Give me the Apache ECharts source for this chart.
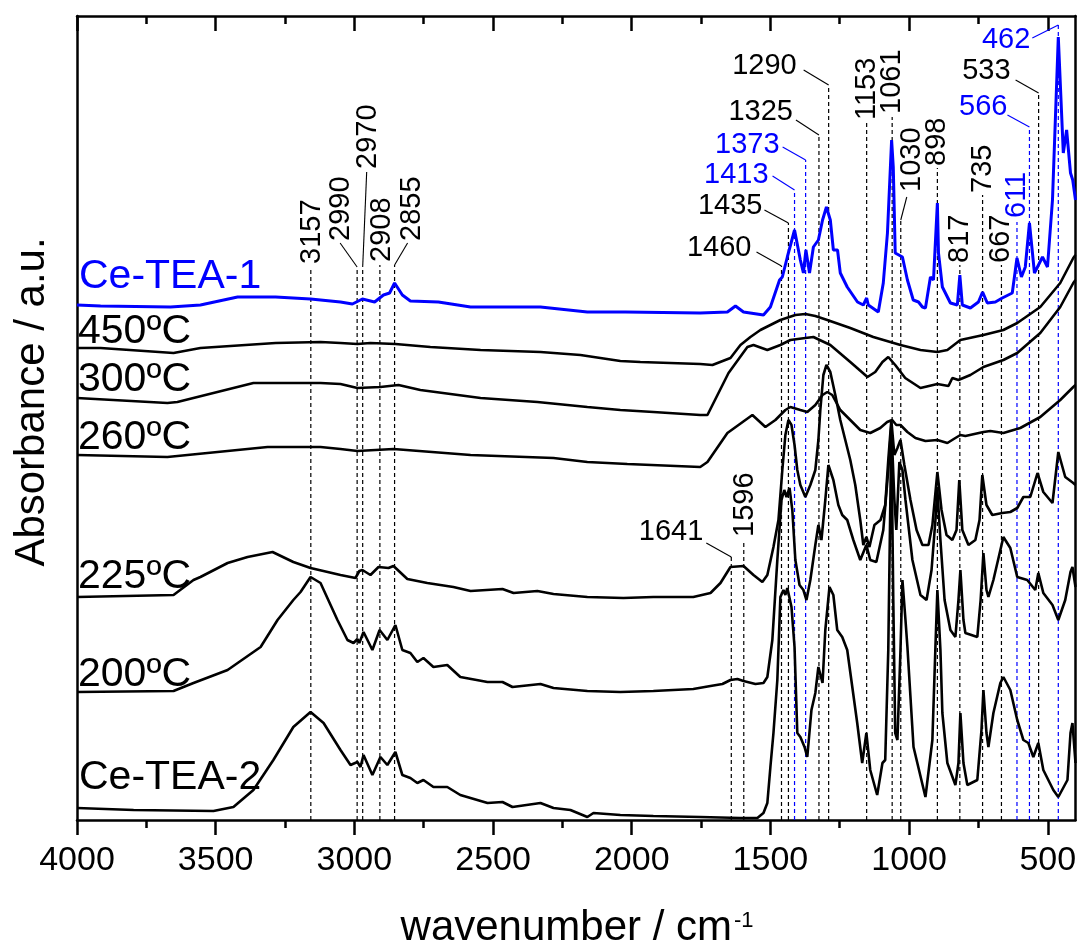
<!DOCTYPE html>
<html>
<head>
<meta charset="utf-8">
<script src="https://cdn.jsdelivr.net/npm/echarts@6/dist/echarts.min.js"></script>
<style>
  html, body { margin: 0; padding: 0; background: #fff; }
  #chart { width: 1080px; height: 947px; }
</style>
</head>
<body>
<div id="chart"></div>
<script>
// FTIR spectra, [wavenumber, absorbance (a.u., stacked offsets)]
var ceTea1 = [[4000,515],[3915,514],[3663,513],[3555,515],[3421,523],[3284,523],[3158,521],[3050,518],[3007,516],[2971,521],[2927,518],[2895,525],[2873,527],[2855,537],[2827,525],[2798,519],[2697,518],[2581,513],[2329,513],[2160,508],[2023,508],[1753,507],[1655,508],[1626,514],[1597,508],[1525,505],[1500,513],[1467,540],[1457,543],[1439,563],[1413,590],[1392,560],[1381,547],[1372,570],[1359,547],[1345,573],[1327,580],[1312,600],[1298,613],[1284,600],[1273,570],[1258,570],[1248,547],[1223,533],[1186,518],[1165,515],[1153,522],[1147,515],[1111,508],[1093,537],[1086,537],[1078,587],[1063,680],[1057,653],[1050,567],[1024,563],[1006,540],[985,520],[966,518],[952,513],[941,512],[923,543],[912,540],[898,617],[894,567],[880,533],[851,517],[826,515],[817,545],[808,515],[779,512],[750,518],[735,528],[718,517],[689,518],[664,522],[628,527],[611,562],[595,543],[581,553],[566,597],[548,547],[519,563],[501,553],[483,620],[462,783],[444,667],[432,690],[418,647],[410,640],[400,620]];

var t450 = [[4000,472],[3915,472],[3652,467],[3555,472],[3284,477],[3122,478],[3050,477],[2989,476],[2942,477],[2852,476],[2726,473],[2545,470],[2329,468],[2185,465],[2041,459],[1969,458],[1753,456],[1709,455],[1644,462],[1608,475],[1572,483],[1536,490],[1464,500],[1410,505],[1374,506],[1338,504],[1295,500],[1212,492],[1129,483],[1031,475],[959,470],[898,468],[862,470],[815,480],[732,485],[660,490],[610,497],[527,513],[455,537],[408,562],[400,565]];

var t300 = [[4000,422],[3674,417],[3638,418],[3364,437],[3220,437],[3122,437],[3050,436],[2989,432],[2906,433],[2841,435],[2762,430],[2545,422],[2340,418],[2160,413],[2041,410],[1922,408],[1753,405],[1727,405],[1651,447],[1583,473],[1561,475],[1511,470],[1464,475],[1428,480],[1374,482],[1345,483],[1284,475],[1212,458],[1150,443],[1122,448],[1096,458],[1075,463],[1050,455],[1014,442],[959,432],[898,436],[858,434],[844,442],[822,440],[779,445],[732,453],[660,460],[610,467],[527,487],[455,513],[408,537],[400,540]];

var t260 = [[4000,365],[3674,363],[3313,373],[3122,373],[3050,371],[2989,369],[2859,371],[2581,365],[2282,362],[2160,358],[2016,356],[1753,353],[1727,358],[1655,387],[1565,405],[1518,393],[1482,400],[1446,410],[1428,413],[1392,410],[1367,408],[1338,415],[1312,425],[1295,428],[1277,425],[1248,410],[1212,400],[1176,390],[1140,387],[1104,392],[1079,398],[1061,400],[1046,395],[1031,395],[1006,388],[977,382],[941,379],[898,380],[862,377],[833,382],[815,385],[797,384],[732,388],[707,389],[660,387],[599,392],[527,403],[455,420],[408,433],[400,435]];

var t225 = [[4000,223],[3652,225],[3580,240],[3555,243],[3457,257],[3385,263],[3295,268],[3220,258],[3158,252],[3050,245],[2996,242],[2982,249],[2971,250],[2942,245],[2913,253],[2877,252],[2859,254],[2809,241],[2737,237],[2643,233],[2581,229],[2466,231],[2426,227],[2340,229],[2282,226],[2160,223],[2030,222],[1922,223],[1778,223],[1716,227],[1680,237],[1644,253],[1597,254],[1561,245],[1529,238],[1511,245],[1489,273],[1471,300],[1457,350],[1446,385],[1435,400],[1424,395],[1413,375],[1403,350],[1392,335],[1374,323],[1356,335],[1338,350],[1327,380],[1320,410],[1309,445],[1298,455],[1284,448],[1266,425],[1248,400],[1230,380],[1212,360],[1194,335],[1176,300],[1165,275],[1154,283],[1143,273],[1125,295],[1103,300],[1086,315],[1075,360],[1064,400],[1053,365],[1042,372],[1031,380],[1017,355],[995,320],[973,290],[952,275],[930,275],[916,295],[898,348],[883,310],[865,285],[844,280],[829,290],[819,340],[808,290],[786,275],[761,280],[746,300],[736,345],[721,315],[700,305],[664,307],[635,308],[610,312],[588,323],[563,323],[537,347],[516,328],[483,317],[462,368],[437,343],[408,337],[400,335]];

var t200 = [[4000,128],[3652,129],[3580,137],[3457,150],[3338,173],[3277,200],[3220,220],[3194,228],[3158,243],[3122,237],[3061,200],[3025,180],[3003,177],[2989,181],[2982,177],[2967,188],[2935,170],[2909,190],[2881,180],[2852,195],[2827,170],[2798,167],[2773,158],[2751,162],[2715,153],[2665,155],[2618,143],[2520,138],[2466,138],[2430,133],[2329,136],[2282,132],[2160,129],[2041,128],[1922,129],[1778,131],[1716,134],[1673,136],[1644,140],[1619,141],[1597,139],[1554,136],[1525,137],[1511,143],[1493,180],[1475,260],[1460,320],[1450,330],[1442,323],[1431,332],[1421,310],[1410,260],[1395,235],[1381,230],[1370,220],[1356,240],[1338,275],[1327,295],[1316,280],[1302,320],[1291,355],[1273,340],[1255,315],[1241,305],[1223,300],[1201,280],[1176,260],[1154,275],[1140,260],[1118,258],[1093,290],[1075,350],[1064,395],[1053,320],[1046,290],[1035,358],[1024,350],[1013,320],[988,260],[959,225],[937,220],[919,250],[905,300],[898,330],[887,280],[872,220],[851,190],[833,183],[822,220],[815,250],[804,200],[797,187],[754,183],[742,220],[732,267],[721,230],[714,223],[696,240],[660,283],[635,272],[610,243],[574,240],[545,230],[534,247],[516,227],[483,215],[462,200],[437,220],[418,248],[411,253],[400,233]];

var ceTea2 = [[4000,12],[3796,10],[3508,9],[3436,13],[3364,30],[3292,60],[3220,93],[3158,108],[3111,97],[3050,70],[3014,55],[2989,58],[2978,53],[2967,65],[2935,45],[2906,63],[2881,55],[2852,68],[2827,45],[2798,42],[2773,37],[2751,40],[2715,33],[2665,33],[2618,25],[2520,17],[2466,18],[2430,13],[2329,17],[2282,12],[2221,10],[2160,3],[2138,7],[2041,5],[1922,4],[1753,3],[1608,2],[1547,2],[1525,7],[1511,17],[1500,53],[1489,87],[1475,140],[1464,223],[1453,230],[1446,225],[1439,232],[1424,213],[1413,173],[1403,87],[1392,83],[1377,73],[1367,63],[1352,110],[1338,127],[1327,153],[1312,137],[1302,190],[1287,233],[1273,225],[1259,190],[1241,183],[1223,170],[1187,97],[1169,57],[1154,87],[1140,50],[1115,25],[1096,57],[1086,60],[1075,170],[1064,390],[1057,220],[1050,87],[1042,80],[1031,170],[1024,240],[1013,200],[1006,173],[984,73],[941,23],[916,80],[905,173],[898,230],[887,170],[880,107],[862,57],[833,35],[822,57],[815,107],[804,57],[790,35],[754,40],[739,90],[732,130],[721,87],[714,73],[696,107],[671,137],[660,143],[635,130],[610,100],[588,80],[570,77],[552,63],[534,77],[516,50],[480,30],[462,23],[429,40],[418,87],[411,97],[400,57]];

// marked bands: position and height of each dashed guide
var peakWn  = [3157, 2990, 2970, 2908, 2855, 1641, 1596, 1460, 1435, 1413, 1373, 1325, 1290, 1153, 1061, 1030, 898, 817, 735, 667, 611, 566, 533, 462];
var peakTop = [553, 553, 553, 555, 555, 263, 280, 554, 597, 630, 660, 685, 735, 697, 703, 600, 652, 555, 625, 555, 598, 693, 727, 795];
var bluePeaks = [1413, 1373, 611, 566, 462];

var majorTicks = [500, 1000, 1500, 2000, 2500, 3000, 3500, 4000];
var minorTicks = [750, 1250, 1750, 2250, 2750, 3250, 3750];

var BLUE = '#0000ff';
var FONT = '"Liberation Sans", Arial, Helvetica, sans-serif';

// label placement for each guide (pixel offsets from the top of the dashed line)
var peakLayout = {
  3157: { rot: true, text: [1, -3] },
  2990: { rot: true, lead: [-17, -24], text: [-16, -26] },
  2970: { rot: true, lead: [4, -95], text: [5, -98] },
  2908: { rot: true, text: [2, -3] },
  2855: { rot: true, lead: [13, -22], text: [17, -24] },
  1641: { lead: [-25, -14], text: [-28, -25] },
  1596: { rot: true, text: [1, -3] },
  1460: { lead: [-25, -14], text: [-30, -18] },
  1435: { lead: [-24, -13], text: [-26, -17] },
  1413: { lead: [-22, -14], text: [-26, -15] },
  1373: { lead: [-23, -13], text: [-26, -15] },
  1325: { lead: [-23, -15], text: [-26, -23] },
  1290: { lead: [-25, -15], text: [-32, -19] },
  1153: { rot: true, text: [0, -3] },
  1061: { rot: true, text: [0, -3] },
  1030: { rot: true, lead: [6, -23], text: [11, -28] },
  898:  { rot: true, text: [0, -2] },
  817:  { rot: true, text: [0, -2] },
  735:  { rot: true, text: [0, -2] },
  667:  { rot: true, text: [0, -2] },
  611:  { rot: true, text: [0, -4] },
  566:  { lead: [-22, -12], text: [-22, -20] },
  533:  { lead: [-23, -13], text: [-28, -22] },
  462:  { lead: [-26, 13], text: [-28, 15] }
};

var chart = echarts.init(document.getElementById('chart'), null, { renderer: 'canvas' });

function renderPeak(params, api) {
  var wn = api.value(0);
  var base = api.coord([wn, 0]);
  var tip = api.coord([wn, api.value(1)]);
  var lay = peakLayout[wn];
  var color = bluePeaks.indexOf(wn) >= 0 ? BLUE : '#000';
  var kids = [{
    type: 'line',
    shape: { x1: base[0], y1: base[1], x2: tip[0], y2: tip[1] },
    style: { stroke: color, lineWidth: 1.2, lineDash: [4, 3] }
  }];
  if (lay.lead) {
    kids.push({
      type: 'line',
      shape: { x1: tip[0], y1: tip[1], x2: tip[0] + lay.lead[0], y2: tip[1] + lay.lead[1] },
      style: { stroke: color, lineWidth: 1.1 }
    });
  }
  kids.push({
    type: 'text',
    x: tip[0] + lay.text[0],
    y: tip[1] + lay.text[1],
    rotation: lay.rot ? Math.PI / 2 : 0,
    style: {
      text: String(wn), fill: color, font: '29px ' + FONT,
      align: lay.rot ? 'left' : 'right', verticalAlign: 'middle'
    }
  });
  return { type: 'group', children: kids };
}

function spectrum(name, data, color, width) {
  return {
    name: name, type: 'line', data: data, xAxisIndex: 0, yAxisIndex: 0,
    showSymbol: false, symbol: 'none', z: 3,
    lineStyle: { color: color, width: width }
  };
}

function xAxisBase(pos, ticks, len, inside, showLine) {
  return {
    type: 'value', min: 400, max: 4000, inverse: true, position: pos, gridIndex: 0,
    axisLine: { show: showLine, lineStyle: { color: '#000', width: 2.5 } },
    axisTick: { show: true, customValues: ticks, length: len, inside: inside, lineStyle: { color: '#000', width: 2.5 } },
    axisLabel: { show: false },
    splitLine: { show: false }
  };
}

var bottomMajor = xAxisBase('bottom', majorTicks, 15, false, true);
bottomMajor.axisLabel = {
  show: true, customValues: majorTicks, color: '#000', fontSize: 34, fontFamily: FONT, margin: 24,
  formatter: function (v) { return String(v); }
};

function label(text, x, y, color) {
  return {
    type: 'text', x: x, y: y,
    style: { text: text, fill: color, font: '41px ' + FONT, align: 'left', verticalAlign: 'middle' }
  };
}

chart.setOption({
  animation: false,
  backgroundColor: '#fff',
  grid: { left: 77, right: 4.5, top: 16, bottom: 127, containLabel: false },
  xAxis: [
    bottomMajor,
    xAxisBase('bottom', minorTicks, 8, false, false),
    xAxisBase('top', majorTicks, 15, true, true),
    xAxisBase('top', minorTicks, 8, true, false)
  ],
  yAxis: [
    { type: 'value', min: 0, max: 804, position: 'left',
      axisLine: { show: true, lineStyle: { color: '#000', width: 2.5 } },
      axisTick: { show: false }, axisLabel: { show: false }, splitLine: { show: false } },
    { type: 'value', min: 0, max: 804, position: 'right',
      axisLine: { show: true, lineStyle: { color: '#000', width: 2.5 } },
      axisTick: { show: false }, axisLabel: { show: false }, splitLine: { show: false } }
  ],
  series: [
    {
      type: 'custom', name: 'peaks', xAxisIndex: 0, yAxisIndex: 0, z: 1, clip: false,
      data: peakWn.map(function (w, i) { return [w, peakTop[i]]; }),
      renderItem: renderPeak
    },
    spectrum('Ce-TEA-2', ceTea2, '#000', 2.6),
    spectrum('200ºC', t200, '#000', 2.6),
    spectrum('225ºC', t225, '#000', 2.6),
    spectrum('260ºC', t260, '#000', 2.6),
    spectrum('300ºC', t300, '#000', 2.6),
    spectrum('450ºC', t450, '#000', 2.6),
    spectrum('Ce-TEA-1', ceTea1, BLUE, 3)
  ],
  graphic: [
    label('Ce-TEA-1', 79, 277, BLUE),
    label('450ºC', 78, 332, '#000'),
    label('300ºC', 78, 380, '#000'),
    label('260ºC', 78, 438, '#000'),
    label('225ºC', 78, 577, '#000'),
    label('200ºC', 78, 675, '#000'),
    label('Ce-TEA-2', 79, 778, '#000'),
    { type: 'text', x: 732, y: 928,
      style: { text: 'wavenumber / cm', fill: '#000', font: '42px ' + FONT, align: 'right', verticalAlign: 'middle' } },
    { type: 'text', x: 734, y: 921,
      style: { text: '-1', fill: '#000', font: '22px ' + FONT, align: 'left', verticalAlign: 'middle' } },
    { type: 'text', x: 32, y: 402, rotation: Math.PI / 2,
      style: { text: 'Absorbance / a.u.', fill: '#000', font: '42px ' + FONT, align: 'center', verticalAlign: 'middle' } }
  ]
});
</script>
</body>
</html>
